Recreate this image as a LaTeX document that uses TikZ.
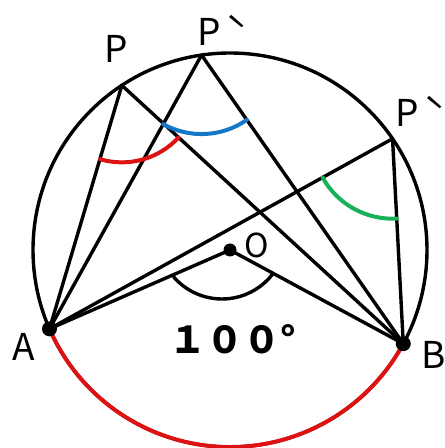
\documentclass[tikz,border=0pt]{standalone}
\usepackage{fontspec}
\newfontfamily\lblfont{Noto Sans CJK JP}
\usetikzlibrary{calc}
\definecolor{arcred}{RGB}{222,18,18}
\definecolor{arcblue}{RGB}{22,118,200}
\definecolor{arcgreen}{RGB}{24,176,88}
\begin{document}
\begin{tikzpicture}[x=1pt,y=1pt,
  ln/.style={line width=3.4pt, line cap=round, line join=round},
  angarc/.style={line width=4pt, line cap=round},
  dotb/.style={fill=black},
  lbl/.style={font=\lblfont\fontsize{37}{40}\selectfont, inner sep=0pt},
  lblo/.style={font=\lblfont\fontsize{33}{36}\selectfont, inner sep=0pt},
  num/.style={font=\lblfont\bfseries\fontsize{37}{40}\selectfont, inner sep=0pt}]
\useasboundingbox (0,0) rectangle (445,448);
\coordinate (C) at (230,198);
\coordinate (A) at ($(C)+(203.6:197)$);
\coordinate (B) at ($(C)+(331.6:197)$);
\coordinate (P) at ($(C)+(123.3:197)$);
\coordinate (Pp) at ($(C)+(98.3:197)$);
\coordinate (Ppp) at ($(C)+(34.4:197)$);
\coordinate (O) at (C);
\coordinate (K) at (222,213);
% circle
\draw[ln] (C) circle[radius=197];
% red lower arc
\draw[angarc, arcred] (A) arc[start angle=203.6, end angle=331.6, radius=197];
% chords
\draw[ln] (A) -- (P) -- (B);
\draw[ln] (A) -- (Pp) -- (B);
\draw[ln] (A) -- (Ppp) -- (B);
\draw[ln] (A) -- (O) -- (B);
% central angle arc
\draw[ln] ($(K)+(221:64)$) arc[start angle=221, end angle=322, radius=64];
% inscribed angle arcs
\draw[angarc, arcred] let \p1=($(A)-(P)$), \p2=($(B)-(P)$), \n1={atan2(\y1,\x1)}, \n2={atan2(\y2,\x2)} in
  ($(P)+(\n1:77)$) arc[start angle=\n1, end angle=\n2, radius=77];
\draw[angarc, arcblue] let \p1=($(A)-(Pp)$), \p2=($(B)-(Pp)$), \n1={atan2(\y1,\x1)}, \n2={atan2(\y2,\x2)} in
  ($(Pp)+(\n1:79)$) arc[start angle=\n1, end angle=\n2, radius=79];
\draw[angarc, arcgreen] let \p1=($(A)-(Ppp)$), \p2=($(B)-(Ppp)$), \n1={atan2(\y1,\x1)}, \n2={atan2(\y2,\x2)} in
  ($(Ppp)+(\n1:80)$) arc[start angle=\n1, end angle=\n2, radius=80];
% dots
\fill[dotb] (A) circle[radius=7.5];
\fill[dotb] (B) circle[radius=7.5];
\fill[dotb] (O) circle[radius=6.5];
% labels
\node[lbl] (lP) at (116.5,399.5) {P};
\node[lbl] (lPp) at (222.5,418) {P\hspace{5pt}ˋ};
\node[lbl] (lPpp) at (420.8,336.3) {P\hspace{5pt}ˋ};
\node[lbl] (lA) at (24,101.3) {A};
\node[lbl] (lB) at (434,93) {B};
\node[lblo] (lO) at (257,202.2) {O};
\node[num] (ang) at (233,109) {１００°};
\end{tikzpicture}
\end{document}
